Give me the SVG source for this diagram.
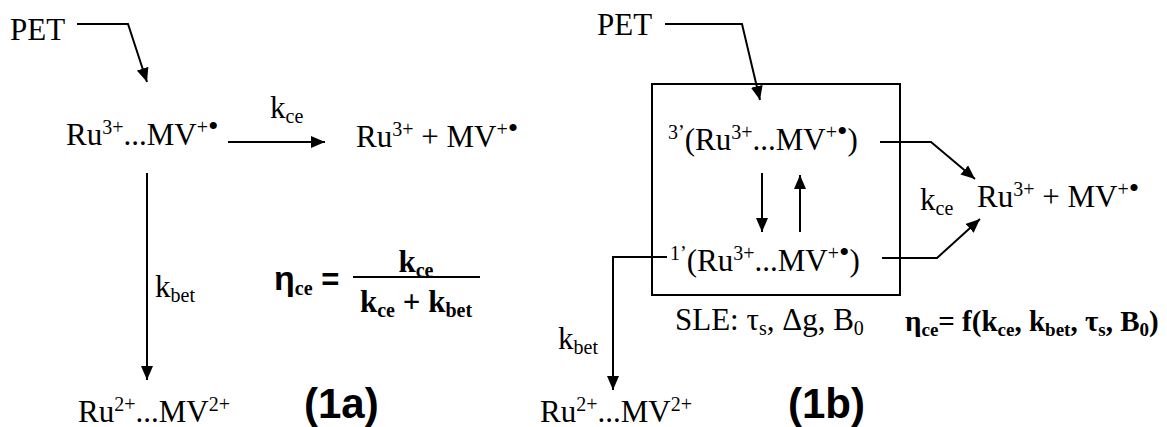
<svg xmlns="http://www.w3.org/2000/svg" width="1167" height="427" viewBox="0 0 1167 427">
<style>
text{font-family:"Liberation Serif","Times New Roman",serif;font-size:31px;fill:#000}
.sup{font-size:20px}
.sub{font-size:20px}
.dot{font-size:30px}
.b{font-weight:bold}
.sans{font-family:"Liberation Sans",Arial,sans-serif;font-weight:bold}
.lbl{font-family:"Liberation Sans",Arial,sans-serif;font-weight:bold;font-size:42px}
.ln{stroke:#000;stroke-width:2;fill:none}
.f2{font-size:29px}
.f2 .sub{font-size:19px}
</style>
<defs>
<marker id="ah" markerUnits="userSpaceOnUse" markerWidth="14" markerHeight="12" refX="14" refY="6" orient="auto">
<path d="M0,0 L14,6 L0,12 z" fill="#000"/>
</marker>
</defs>
<rect width="1167" height="427" fill="#fff"/>
<g id="connectors">
<polyline class="ln" points="77,24 128,24 147,82" marker-end="url(#ah)"/>
<line class="ln" x1="228" y1="142" x2="325" y2="142" marker-end="url(#ah)"/>
<line class="ln" x1="147" y1="173" x2="147" y2="380" marker-end="url(#ah)"/>
<line class="ln" x1="353" y1="277" x2="480" y2="277"/>
<polyline class="ln" points="665,24 742,24 760,100" marker-end="url(#ah)"/>
<rect class="ln" x="652" y="84" width="248" height="211"/>
<polyline class="ln" points="880,142 931,142 975,179" marker-end="url(#ah)"/>
<line class="ln" x1="762" y1="173" x2="762" y2="232" marker-end="url(#ah)"/>
<line class="ln" x1="800" y1="232" x2="800" y2="175" marker-end="url(#ah)"/>
<polyline class="ln" points="667,257 613,257 613,390" marker-end="url(#ah)"/>
<polyline class="ln" points="882,258 937,258 980,219" marker-end="url(#ah)"/>
</g>
<g id="pet-a"><text x="10" y="40">PET</text></g>
<g id="pair-a"><text x="66" y="145">Ru<tspan class="sup" dy="-11">3+</tspan><tspan dy="11">...MV</tspan><tspan class="sup" dy="-11">+</tspan><tspan class="dot" dy="2">•</tspan></text></g>
<g id="kce-a"><text x="270" y="118">k<tspan class="sub" dy="5">ce</tspan></text></g>
<g id="sep-a"><text x="356" y="147">Ru<tspan class="sup" dy="-11">3+</tspan><tspan dy="11"> + MV</tspan><tspan class="sup" dy="-11">+</tspan><tspan class="dot" dy="2">•</tspan></text></g>
<g id="kbet-a"><text x="155" y="297">k<tspan class="sub" dy="5">bet</tspan></text></g>
<g id="bet-a"><text x="78" y="422">Ru<tspan class="sup" dy="-11">2+</tspan><tspan dy="11">...MV</tspan><tspan class="sup" dy="-11">2+</tspan></text></g>
<g id="eta-a">
<text x="274" y="290"><tspan class="sans" font-size="34">η</tspan><tspan class="sub b" dy="5">ce</tspan><tspan class="sans" dy="-5"> =</tspan></text>
<text x="416" y="272" text-anchor="middle" class="b">k<tspan class="sub" dy="5">ce</tspan></text>
<text x="416" y="312" text-anchor="middle" class="b">k<tspan class="sub" dy="5">ce</tspan><tspan dy="-5"> + k</tspan><tspan class="sub" dy="5">bet</tspan></text>
</g>
<g id="label-a"><text class="lbl" x="304" y="418">(1a)</text></g>
<g id="pet-b"><text x="597" y="35">PET</text></g>
<g id="triplet-b"><text x="668" y="150"><tspan class="sup" dy="-11">3’</tspan><tspan dy="11">(Ru</tspan><tspan class="sup" dy="-11">3+</tspan><tspan dy="11">...MV</tspan><tspan class="sup" dy="-11">+</tspan><tspan class="dot" dy="2">•</tspan><tspan dy="9">)</tspan></text></g>
<g id="singlet-b"><text x="670" y="271"><tspan class="sup" dy="-11">1’</tspan><tspan dy="11">(Ru</tspan><tspan class="sup" dy="-11">3+</tspan><tspan dy="11">...MV</tspan><tspan class="sup" dy="-11">+</tspan><tspan class="dot" dy="2">•</tspan><tspan dy="9">)</tspan></text></g>
<g id="kce-b"><text x="920" y="210">k<tspan class="sub" dy="5">ce</tspan></text></g>
<g id="sep-b"><text x="977" y="207">Ru<tspan class="sup" dy="-11">3+</tspan><tspan dy="11"> + MV</tspan><tspan class="sup" dy="-11">+</tspan><tspan class="dot" dy="2">•</tspan></text></g>
<g id="sle-b"><text x="675" y="330">SLE: τ<tspan class="sub" dy="5">s</tspan><tspan dy="-5">, Δg, B</tspan><tspan class="sub" dy="5">0</tspan></text></g>
<g id="kbet-b"><text x="558" y="349">k<tspan class="sub" dy="5">bet</tspan></text></g>
<g id="bet-b"><text x="540" y="422">Ru<tspan class="sup" dy="-11">2+</tspan><tspan dy="11">...MV</tspan><tspan class="sup" dy="-11">2+</tspan></text></g>
<g id="eta-b"><text x="905" y="331" class="b f2">η<tspan class="sub" dy="5">ce</tspan><tspan dy="-5">= f(k</tspan><tspan class="sub" dy="5">ce</tspan><tspan dy="-5">, k</tspan><tspan class="sub" dy="5">bet</tspan><tspan dy="-5">, τ</tspan><tspan class="sub" dy="5">s</tspan><tspan dy="-5">, B</tspan><tspan class="sub" dy="5">0</tspan><tspan dy="-5">)</tspan></text></g>
<g id="label-b"><text class="lbl" x="788" y="418">(1b)</text></g>
</svg>
